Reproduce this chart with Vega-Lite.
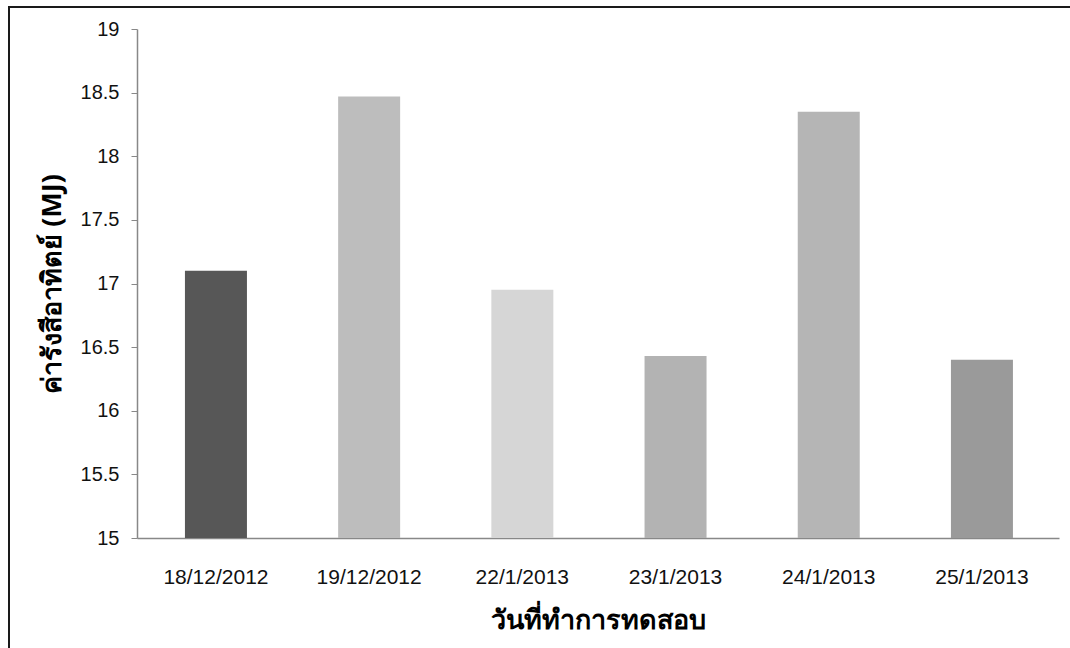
{
  "$schema": "https://vega.github.io/schema/vega-lite/v6.json",
  "autosize": "none",
  "width": 1070,
  "height": 660,
  "padding": {"left": 9, "top": 7, "right": 0, "bottom": 0},
  "background": "white",
  "config": {
    "view": {"stroke": "#1a1a1a", "strokeWidth": 2},
    "font": "Liberation Sans"
  },
  "data": {
    "values": [
      {"date": "18/12/2012", "value": 17.1},
      {"date": "19/12/2012", "value": 18.47},
      {"date": "22/1/2013", "value": 16.95},
      {"date": "23/1/2013", "value": 16.43},
      {"date": "24/1/2013", "value": 18.35},
      {"date": "25/1/2013", "value": 16.4}
    ]
  },
  "mark": {"type": "bar"},
  "encoding": {
    "x": {
      "field": "date",
      "type": "nominal",
      "sort": null,
      "scale": {"range": [128, 1050], "paddingInner": 0.5953, "paddingOuter": 0.3068, "align": 0.51},
      "axis": {
        "orient": "bottom",
        "offset": -129,
        "title": "วันที่ทำการทดสอบ",
        "titleFont": "Noto Sans",
        "titleFontSize": 27,
        "titleFontWeight": "bold",
        "titleColor": "#000",
        "titlePadding": 20,
        "labelAngle": 0,
        "labelFontSize": 21,
        "labelColor": "#111",
        "labelPadding": 28,
        "ticks": false,
        "domainColor": "#888",
        "domainWidth": 1.5,
        "grid": false
      }
    },
    "y": {
      "field": "value",
      "type": "quantitative",
      "scale": {"domain": [15, 19], "range": [531, 22], "nice": false, "zero": false},
      "axis": {
        "orient": "left",
        "offset": -128,
        "values": [15, 15.5, 16, 16.5, 17, 17.5, 18, 18.5, 19],
        "format": "~g",
        "title": "ค่ารังสีอาทิตย์ (MJ)",
        "titleFont": "Noto Sans",
        "titleFontSize": 27,
        "titleFontWeight": "bold",
        "titleColor": "#000",
        "titlePadding": 14,
        "labelFontSize": 20,
        "labelColor": "#111",
        "labelPadding": 12,
        "tickSize": 6,
        "tickColor": "#888",
        "domainColor": "#888",
        "domainWidth": 1.5,
        "grid": false
      }
    },
    "y2": {"datum": 15},
    "color": {
      "field": "date",
      "type": "nominal",
      "sort": null,
      "scale": {"range": ["#575757", "#bdbdbd", "#d6d6d6", "#b3b3b3", "#b5b5b5", "#9a9a9a"]},
      "legend": null
    }
  }
}
